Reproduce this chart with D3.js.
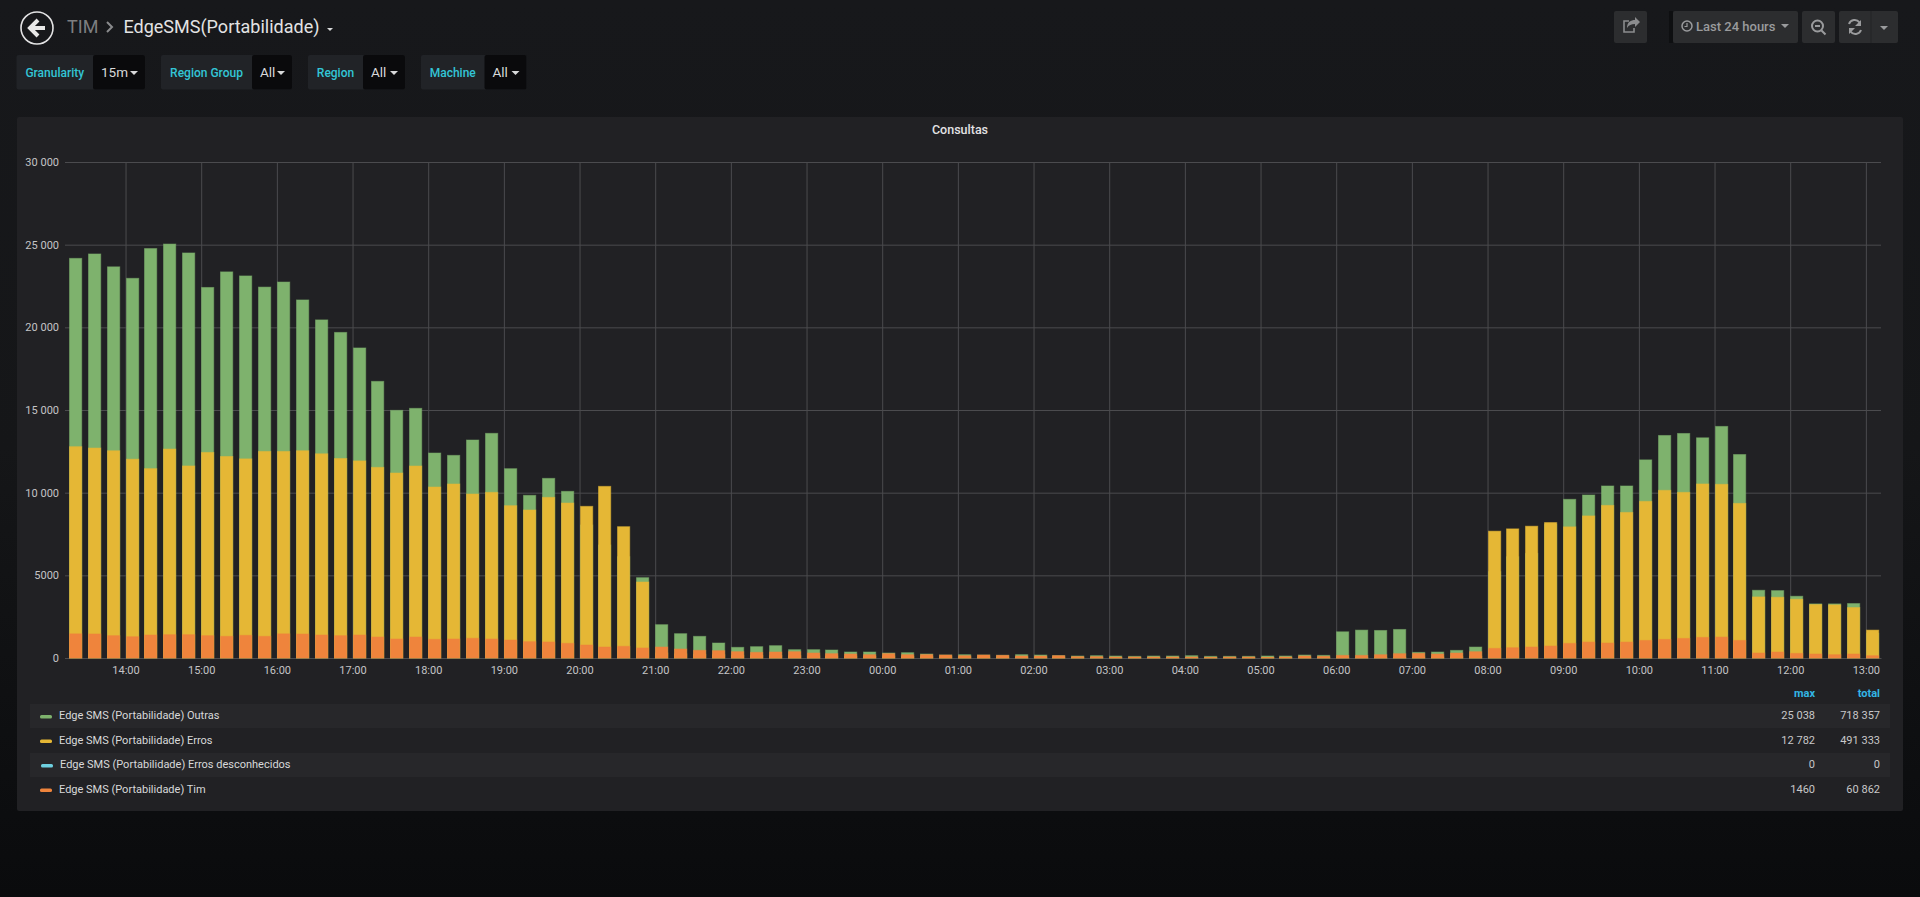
<!DOCTYPE html>
<html>
<head>
<meta charset="utf-8">
<title>EdgeSMS(Portabilidade)</title>
<script src="https://cdnjs.cloudflare.com/ajax/libs/d3/7.8.5/d3.min.js"></script>
<style>
    html, body { margin: 0; padding: 0; overflow: hidden; }
    body { width: 1920px; height: 897px; background: linear-gradient(#17181b 0%, #151618 50%, #0a0b0d 100%); }
    svg { display: block; font-family: Roboto, sans-serif; }
    .x-axis text, .y-axis text { fill: #c4c4c6; font-size: 11px; font-family: Roboto, sans-serif; }
    .x-axis line, .y-axis line, .x-axis path, .y-axis path { stroke: #4b4b4e; }
</style>
</head>
<body>
<div id="chart"></div>
<script>
// one value per 15 min slot, first slot is 13:15
const outras = [
    24172, 24438, 23660,
    22965, 24765, 25038, 24499,
    22413, 23354, 23109, 22434,
    22740, 21657, 20450, 19693,
    18753, 16733, 14979, 15100,
    12398, 12257, 13185, 13588,
    11451, 9838, 10866, 10080,
    8044, 6834, 6129, 4859,
    2016, 1472, 1310, 907,
    645, 685, 746, 504,
    504, 484, 363, 363,
    302, 322, 242, 182,
    202, 181, 161, 202,
    181, 141, 121, 141,
    121, 101, 121, 121,
    141, 101, 101, 101,
    121, 120, 180, 160,
    1586, 1687, 1667, 1727,
    341, 361, 462, 663,
    5221, 6124, 6325, 8100,
    9598, 9859, 10405, 10405,
    11984, 13461, 13582, 13319,
    14008, 12307, 4096, 4076,
    3735, 3273, 3273, 3293,
    1500
];

const erros = [
    12782, 12700, 12536,
    12025, 11452, 12638, 11616,
    12434, 12188, 12045, 12495,
    12495, 12536, 12352, 12066,
    11922, 11532, 11189, 11612,
    10342, 10524, 9919, 10020,
    9213, 8951, 9717, 9374,
    9173, 10382, 7943, 4596,
    300, 250, 220, 200,
    160, 150, 150, 140,
    120, 110, 100, 90,
    110, 90, 80, 80,
    70, 70, 60, 50,
    50, 50, 40, 30,
    30, 30, 30, 30,
    30, 30, 30, 30,
    30, 30, 30, 30,
    20, 20, 30, 30,
    60, 60, 80, 100,
    7671, 7811, 7972, 8193,
    7932, 8594, 9231, 8806,
    9474, 10142, 10020, 10526,
    10506, 9352, 3695, 3675,
    3554, 3233, 3213, 3052,
    1687
];

const desconhecidos = [
    0, 0, 0, 0, 0, 0, 0, 0, 0, 0, 0, 0, 0, 0, 0, 0,
    0, 0, 0, 0, 0, 0, 0, 0, 0, 0, 0, 0, 0, 0, 0, 0,
    0, 0, 0, 0, 0, 0, 0, 0, 0, 0, 0, 0, 0, 0, 0, 0,
    0, 0, 0, 0, 0, 0, 0, 0, 0, 0, 0, 0, 0, 0, 0, 0,
    0, 0, 0, 0, 0, 0, 0, 0, 0, 0, 0, 0, 0, 0, 0, 0,
    0, 0, 0, 0, 0, 0, 0, 0, 0, 0, 0, 0, 0, 0, 0, 0
];

const tim = [
    1460, 1452, 1350,
    1288, 1390, 1411, 1411,
    1350, 1309, 1370, 1309,
    1460, 1450, 1390, 1350,
    1390, 1270, 1149, 1270,
    1129, 1149, 1189, 1149,
    1089, 988, 968, 887,
    786, 665, 706, 605,
    665, 544, 464, 443,
    383, 343, 363, 383,
    302, 262, 242, 202,
    262, 202, 202, 181,
    141, 181, 161, 121,
    121, 141, 80, 80,
    60, 60, 60, 60,
    60, 40, 60, 60,
    40, 60, 120, 100,
    160, 160, 200, 261,
    281, 241, 301, 382,
    582, 622, 663, 723,
    884, 964, 904, 964,
    1064, 1124, 1185, 1245,
    1265, 1064, 301, 361,
    281, 241, 201, 241,
    141
];

const yTicks = [0, 5000, 10000, 15000, 20000, 25000, 30000];

const seriesNames = [
    "Edge SMS (Portabilidade) Outras",
    "Edge SMS (Portabilidade) Erros",
    "Edge SMS (Portabilidade) Erros desconhecidos",
    "Edge SMS (Portabilidade) Tim"
];
const seriesColors = ["#7eb26d", "#e5b735", "#6ed0e0", "#ef843c"];
const seriesValues = [outras, erros, desconhecidos, tim];
const legendMax = ["25 038", "12 782", "0", "1460"];
const legendTotal = ["718 357", "491 333", "0", "60 862"];

const variables = [
    { label: "Granularity", value: "15m", x0: 16.5, x1: 93, x2: 145 },
    { label: "Region Group", value: "All", x0: 161, x1: 252, x2: 292 },
    { label: "Region", value: "All", x0: 308, x1: 363, x2: 405 },
    { label: "Machine", value: "All", x0: 421, x1: 484.5, x2: 526.5 }
];

const margin = { top: 162, right: 39, bottom: 239, left: 65 };
const width = 1920 - margin.left - margin.right;
const height = 897 - margin.top - margin.bottom;

const svg = d3.select("#chart")
    .append("svg")
    .attr("width", 1920)
    .attr("height", 897);

// panel and legend rows
svg.append("rect")
    .attr("x", 17).attr("y", 117)
    .attr("width", 1886).attr("height", 694)
    .attr("rx", 2)
    .attr("fill", "#212124");

svg.append("text")
    .attr("x", 960).attr("y", 134)
    .attr("text-anchor", "middle")
    .attr("fill", "#e3e3e4")
    .attr("font-size", 12.5)
    .attr("font-weight", 500)
    .text("Consultas");

const g = svg.append("g")
    .attr("transform", `translate(${margin.left},${margin.top})`);

const x = d3.scaleUtc()
    .domain([new Date(Date.UTC(2018, 0, 1, 13, 12)), new Date(Date.UTC(2018, 0, 2, 13, 12))])
    .range([0, width]);

const y = d3.scaleLinear()
    .domain([0, 30000])
    .range([height, 0]);

const firstSlot = new Date(Date.UTC(2018, 0, 1, 13, 15));
const slotTime = i => d3.utcMinute.offset(firstSlot, i * 15);
const barWidth = (x(slotTime(1)) - x(slotTime(0))) * 0.7;

const formatThousands = d3.formatLocale({ decimal: ",", thousands: " ", grouping: [3], currency: ["", ""] }).format(",");
const formatY = d => d < 10000 ? String(d) : formatThousands(d);

g.append("g")
    .attr("class", "x-axis")
    .attr("transform", `translate(0,${height})`)
    .call(d3.axisBottom(x)
        .ticks(d3.utcHour.every(1))
        .tickFormat(d3.utcFormat("%H:%M"))
        .tickSize(-height)
        .tickPadding(8)
        .tickSizeOuter(0));

g.append("g")
    .attr("class", "y-axis")
    .call(d3.axisLeft(y)
        .tickValues(yTicks)
        .tickFormat(formatY)
        .tickSize(-width)
        .tickPadding(6)
        .tickSizeOuter(0));

g.select(".y-axis .domain").remove();

// bars overlap, they are not stacked
seriesValues.forEach((values, s) => {
    g.append("g")
        .selectAll("rect")
        .data(values.map((v, i) => ({ v, i })).filter(d => d.v > 0))
        .enter()
        .append("rect")
        .attr("x", d => Math.round(x(slotTime(d.i))) + 0.5)
        .attr("y", d => y(d.v))
        .attr("width", barWidth - 1)
        .attr("height", d => height - y(d.v))
        .attr("fill", seriesColors[s])
        .attr("stroke", seriesColors[s])
        .attr("stroke-opacity", 0.5);
});

// legend table
const legendY = [704, 728.5, 753, 777.5];
const legend = svg.append("g");

legend.append("text")
    .attr("x", 1815).attr("y", 697)
    .attr("text-anchor", "end")
    .attr("fill", "#33b5e5")
    .attr("font-size", 11).attr("font-weight", 700)
    .text("max");
legend.append("text")
    .attr("x", 1880).attr("y", 697)
    .attr("text-anchor", "end")
    .attr("fill", "#33b5e5")
    .attr("font-size", 11).attr("font-weight", 700)
    .text("total");

seriesNames.forEach((name, i) => {
    const shift = i === 2 ? 1 : 0;
    const row = legend.append("g").attr("transform", `translate(0,${legendY[i]})`);
    if (i % 2 === 0) {
        row.append("rect")
            .attr("x", 30).attr("width", 1860).attr("height", 24)
            .attr("fill", "#27272a");
    }
    row.append("rect")
        .attr("x", 40 + shift).attr("y", 11)
        .attr("width", 12).attr("height", 3.5).attr("rx", 1.5)
        .attr("fill", seriesColors[i]);
    row.append("text")
        .attr("x", 59 + shift).attr("y", 15)
        .attr("fill", "#d8d9da").attr("font-size", 11)
        .text(name);
    row.append("text")
        .attr("x", 1815).attr("y", 15)
        .attr("text-anchor", "end")
        .attr("fill", "#c8c8c9").attr("font-size", 11)
        .text(legendMax[i]);
    row.append("text")
        .attr("x", 1880).attr("y", 15)
        .attr("text-anchor", "end")
        .attr("fill", "#c8c8c9").attr("font-size", 11)
        .text(legendTotal[i]);
});

// top bar: back button and title
const nav = svg.append("g");

nav.append("circle")
    .attr("cx", 37).attr("cy", 28).attr("r", 16)
    .attr("fill", "none").attr("stroke", "#e3e3e4").attr("stroke-width", 1.6);
nav.append("path")
    .attr("d", "M38 20 L30 28 L38 36 M31 28 H45")
    .attr("fill", "none").attr("stroke", "#e8e8e8").attr("stroke-width", 4);

nav.append("text")
    .attr("x", 67).attr("y", 33)
    .attr("fill", "#7d7e80").attr("font-size", 18)
    .text("TIM");
nav.append("path")
    .attr("d", "M107 22 L112 27 L107 32")
    .attr("fill", "none").attr("stroke", "#8a8b8d").attr("stroke-width", 2);
nav.append("text")
    .attr("x", 123.5).attr("y", 33)
    .attr("fill", "#e3e3e4").attr("font-size", 18)
    .text("EdgeSMS(Portabilidade)");
nav.append("path")
    .attr("d", "M327 28 h6 l-3 3 z")
    .attr("fill", "#d8d9da");

// template variables
variables.forEach(v => {
    const item = svg.append("g");
    item.append("rect")
        .attr("x", v.x0).attr("y", 55)
        .attr("width", v.x2 - v.x0).attr("height", 34.5).attr("rx", 2)
        .attr("fill", "#212327");
    item.append("rect")
        .attr("x", v.x1).attr("y", 55)
        .attr("width", v.x2 - v.x1).attr("height", 34.5).attr("rx", 2)
        .attr("fill", "#0a0a0c");
    item.append("text")
        .attr("x", (v.x0 + v.x1) / 2).attr("y", 76.5)
        .attr("text-anchor", "middle")
        .attr("fill", "#33c5d6").attr("font-size", 12).attr("font-weight", 500)
        .text(v.label);
    item.append("text")
        .attr("x", v.x1 + 8).attr("y", 77)
        .attr("fill", "#d8d9da").attr("font-size", 13.5)
        .text(v.value);
    item.append("path")
        .attr("d", `M${v.x2 - 15} 71 h8 l-4 4 z`)
        .attr("fill", "#d8d9da");
});

// buttons on the right
const buttons = [
    { x0: 1614, x1: 1647 },
    { x0: 1673, x1: 1798 },
    { x0: 1802, x1: 1835 },
    { x0: 1839, x1: 1898 }
];
const btn = svg.append("g");

btn.append("rect")
    .attr("x", 1669).attr("y", 11)
    .attr("width", 4).attr("height", 32)
    .attr("fill", "#0e0f11");

btn.selectAll("rect.button")
    .data(buttons)
    .enter()
    .append("rect")
    .attr("class", "button")
    .attr("x", d => d.x0).attr("y", 11)
    .attr("width", d => d.x1 - d.x0).attr("height", 32).attr("rx", 2)
    .attr("fill", "#2c2d2f");

btn.append("line")
    .attr("x1", 1871).attr("x2", 1871).attr("y1", 11).attr("y2", 43)
    .attr("stroke", "#232426");

// share
btn.append("path")
    .attr("d", "M1634 28 v4 h-10 v-11 h5")
    .attr("fill", "none").attr("stroke", "#8b8c8e").attr("stroke-width", 1.6);
btn.append("path")
    .attr("d", "M1627 28 c0 -6 4 -8 8 -8 v-3 l5 5 l-5 5 v-3 c-4 0 -6 1 -8 4 z")
    .attr("fill", "#8b8c8e");

// clock + range
btn.append("circle")
    .attr("cx", 1687).attr("cy", 26).attr("r", 5)
    .attr("fill", "none").attr("stroke", "#9a9b9d").attr("stroke-width", 1.5);
btn.append("path")
    .attr("d", "M1687 23 v3.5 h-2.5")
    .attr("fill", "none").attr("stroke", "#9a9b9d").attr("stroke-width", 1.2);
btn.append("text")
    .attr("x", 1696).attr("y", 31)
    .attr("fill", "#9a9b9d").attr("font-size", 13).attr("font-weight", 500)
    .text("Last 24 hours");
btn.append("path")
    .attr("d", "M1781 24 h8 l-4 4 z")
    .attr("fill", "#9a9b9d");

// zoom out
btn.append("circle")
    .attr("cx", 1817.5).attr("cy", 26).attr("r", 5.5)
    .attr("fill", "none").attr("stroke", "#9a9b9d").attr("stroke-width", 2);
btn.append("path")
    .attr("d", "M1815 26 h5 M1821.5 30.5 l4 4")
    .attr("fill", "none").attr("stroke", "#9a9b9d").attr("stroke-width", 2);

// refresh
btn.append("path")
    .attr("d", "M1849 24 a6 6 0 0 1 10.5 -1.5 M1861 30 a6 6 0 0 1 -10.5 1.5")
    .attr("fill", "none").attr("stroke", "#9a9b9d").attr("stroke-width", 2);
btn.append("path")
    .attr("d", "M1861 20 v6 h-6 z M1849 34 v-6 h6 z")
    .attr("fill", "#9a9b9d");
btn.append("path")
    .attr("d", "M1880 26 h8 l-4 4 z")
    .attr("fill", "#9a9b9d");
</script>
</body>
</html>
